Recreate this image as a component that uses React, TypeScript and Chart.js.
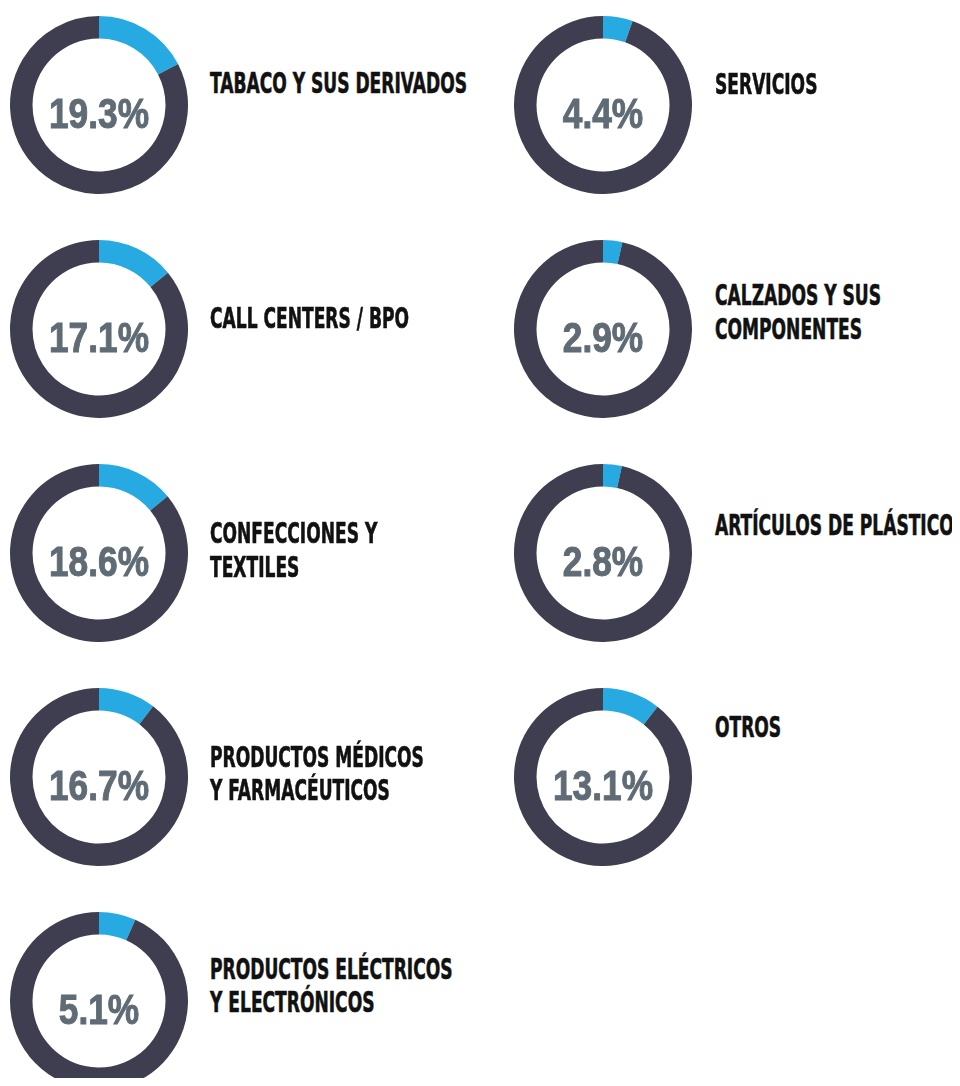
import React, { useEffect, useRef } from "react";
import { Chart, registerables } from "chart.js";

Chart.register(...registerables);

// ---- data ----
const categories = [
  "TABACO Y SUS DERIVADOS",
  "CALL CENTERS / BPO",
  "CONFECCIONES Y\nTEXTILES",
  "PRODUCTOS MÉDICOS\nY FARMACÉUTICOS",
  "PRODUCTOS ELÉCTRICOS\nY ELECTRÓNICOS",
  "SERVICIOS",
  "CALZADOS Y SUS\nCOMPONENTES",
  "ARTÍCULOS DE PLÁSTICO",
  "OTROS",
];
const shareLabels = ["19.3%", "17.1%", "18.6%", "16.7%", "5.1%", "4.4%", "2.9%", "2.8%", "13.1%"];
// arc share as drawn in the picture (percent of the ring)
const arcShares = [17.4, 14.1, 14.0, 10.4, 6.7, 5.4, 3.5, 3.4, 10.5];

// ---- layout ----
const colX = [99, 602.5];
const rowY = [105, 329, 553, 777, 1001];
const cellCol = [0, 0, 0, 0, 0, 1, 1, 1, 1];
const cellRow = [0, 1, 2, 3, 4, 0, 1, 2, 3];
const labelX = [210, 715];
const labelCapTop = [-32, -21, -30, -30.5, -42.5, -31.5, -44, -38.5, -60.5];
const R = 89;
const BLUE = "#27aae1";
const DARK = "#3e3e50";

function Donut({ idx }: { idx: number }) {
  const ref = useRef<HTMLCanvasElement | null>(null);
  useEffect(() => {
    if (!ref.current) return;
    const v = arcShares[idx];
    const chart = new Chart(ref.current, {
      type: "doughnut",
      data: {
        labels: [categories[idx], "resto"],
        datasets: [
          {
            data: [v, 100 - v],
            backgroundColor: [BLUE, DARK],
            borderWidth: 0,
            hoverOffset: 0,
          },
        ],
      },
      options: {
        responsive: false,
        maintainAspectRatio: false,
        animation: false,
        cutout: "74.7%",
        events: [],
        layout: { padding: 0 },
        plugins: { legend: { display: false }, tooltip: { enabled: false } },
      },
    });
    return () => chart.destroy();
  }, [idx]);
  const cx = colX[cellCol[idx]];
  const cy = rowY[cellRow[idx]];
  return (
    <>
      <canvas
        ref={ref}
        width={R * 2}
        height={R * 2}
        style={{ position: "absolute", left: cx - R, top: cy - R, width: R * 2, height: R * 2 }}
      />
      <div
        style={{
          position: "absolute",
          left: cx - 100,
          top: cy - 16.5,
          width: 200,
          textAlign: "center",
          fontFamily: "'Liberation Sans', Arial, sans-serif",
          fontWeight: 700,
          fontSize: 42,
          lineHeight: "50px",
          color: "#5f6b75",
          WebkitTextStroke: "1px #5f6b75",
          transform: "scaleX(0.84)",
          transformOrigin: "center",
          whiteSpace: "nowrap",
        }}
      >
        {shareLabels[idx]}
      </div>
      <div
        style={{
          position: "absolute",
          left: labelX[cellCol[idx]],
          top: cy + labelCapTop[idx] - 6,
          fontFamily: "'DejaVu Sans Condensed', 'DejaVu Sans', sans-serif",
          fontStretch: "condensed",
          fontWeight: 700,
          fontSize: 29,
          lineHeight: "33.5px",
          color: "#111111",
          WebkitTextStroke: "0.6px #111111",
          transform: "scaleX(0.655)",
          transformOrigin: "left top",
          whiteSpace: "pre",
        }}
      >
        {categories[idx]}
      </div>
    </>
  );
}

export default function App() {
  return (
    <div
      style={{
        position: "relative",
        width: 960,
        height: 1086,
        margin: -8,
        overflow: "hidden",
        background: "#ffffff",
      }}
    >
      {categories.map((_, i) => (
        <Donut key={i} idx={i} />
      ))}
    </div>
  );
}
